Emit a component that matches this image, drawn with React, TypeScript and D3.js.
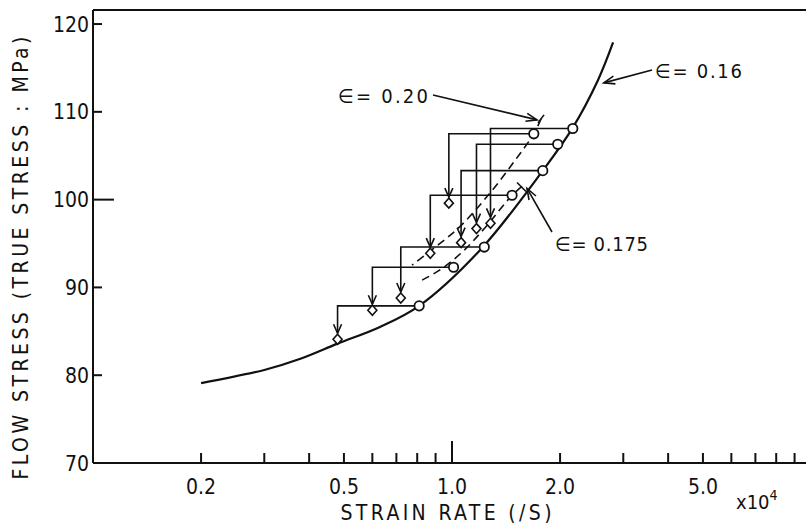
import React from 'react';
import * as d3 from 'd3';

const W = 806;
const H = 524;

// solid curve, strain = 0.16
const curveRate = [0.2, 0.3, 0.38, 0.48, 0.63, 0.81, 1.2, 1.79, 2.17, 2.55, 2.81];
const curveStress = [79.1, 80.6, 81.9, 83.6, 85.5, 87.9, 94.3, 103.3, 108.2, 113.6, 117.9];

// dashed, strain = 0.175
const midRate = [1.567, 1.47, 1.236, 1.066, 0.926, 0.814];
const midStress = [101.5, 100.5, 96.8, 94.0, 92.0, 90.7];

// dashed, strain = 0.20
const highRate = [1.77, 1.69, 1.5, 1.276, 1.05, 0.88, 0.774];
const highStress = [109.2, 107.5, 104.5, 100.75, 96.9, 94.3, 92.55];

// open circles (before the rate drop) and diamonds (after)
const circleRate = [0.81, 1.01, 1.23, 1.47, 1.79, 1.97, 2.17, 1.69];
const circleStress = [87.9, 92.3, 94.6, 100.5, 103.3, 106.3, 108.1, 107.5];
const diamondRate = [0.48, 0.6, 0.72, 0.87, 1.06, 1.17, 1.28, 0.98];
const diamondStress = [84.1, 87.4, 88.8, 93.9, 95.1, 96.7, 97.3, 99.6];

const yTicks = [70, 80, 90, 100, 110, 120];
const xLabels = [0.2, 0.5, 1.0, 2.0, 5.0];
const xMinor = [0.2, 0.3, 0.4, 0.5, 0.6, 0.7, 0.8, 0.9, 2, 3, 4, 5, 6, 7, 8, 9];

const FONT = '"DejaVu Sans Condensed", Roboto, "DejaVu Sans", sans-serif';
const INK = '#111';

// open V arrowhead ending at (x2, y2), coming from (x1, y1)
const arrowHead = (x1: number, y1: number, x2: number, y2: number, len = 9, half = 4) => {
  const a = Math.atan2(y2 - y1, x2 - x1);
  const bx = x2 - len * Math.cos(a);
  const by = y2 - len * Math.sin(a);
  const px = -Math.sin(a) * half;
  const py = Math.cos(a) * half;
  return `M${bx + px},${by + py}L${x2},${y2}L${bx - px},${by - py}`;
};

export default function App() {
  const x = d3.scaleLog().domain([0.1, 10]).range([93, 811]);
  const y = d3.scaleLinear().domain([70, 121.6]).range([463, 10]);

  const line = d3.line<number>().curve(d3.curveCatmullRom.alpha(0.5));

  const path = (rates: number[], stresses: number[]) =>
    line.x((_, i) => x(rates[i])).y((_, i) => y(stresses[i]))(rates.map((_, i) => i)) || '';

  const r = 4.7;

  // annotation arrows
  const hiTopX = x(highRate[0]);
  const hiTopY = y(highStress[0]);
  const midTopX = x(midRate[0]);
  const midTopY = y(midStress[0]);
  const lowX = x(2.58);
  const lowY = y(113.3);

  return (
    <svg
      width={W}
      height={H}
      style={{ position: 'absolute', left: 0, top: 0, background: '#fff' }}
      fontFamily={FONT}
    >
      {/* frame */}
      <g stroke={INK} strokeWidth={2} fill="none">
        <line x1={93} y1={10} x2={W} y2={10} />
        <line x1={93} y1={10} x2={93} y2={463} />
        <line x1={93} y1={463} x2={W} y2={463} />
      </g>

      {/* y ticks */}
      {yTicks.map((v) => (
        <g key={v}>
          {v > 70 && (
            <line
              x1={93}
              x2={93 + (v === 100 ? 21 : 9)}
              y1={y(v)}
              y2={y(v)}
              stroke={INK}
              strokeWidth={2}
            />
          )}
          <text x={89} y={y(v)} dy="0.36em" textAnchor="end" fontSize={21} fill={INK}>
            {v}
          </text>
        </g>
      ))}

      {/* x ticks */}
      {xMinor.map((v) => (
        <line key={v} x1={x(v)} x2={x(v)} y1={463} y2={453} stroke={INK} strokeWidth={2} />
      ))}
      <line x1={x(1)} x2={x(1)} y1={463} y2={441} stroke={INK} strokeWidth={2} />
      {xLabels.map((v) => (
        <text key={v} x={x(v)} y={486} dy="0.36em" textAnchor="middle" fontSize={21} fill={INK}>
          {v.toFixed(1)}
        </text>
      ))}
      <text x={736} y={502} dy="0.36em" fontSize={20} fill={INK}>
        x10
        <tspan dy={-9} fontSize={14}>
          4
        </tspan>
      </text>

      {/* axis titles */}
      <text x={446} y={512} dy="0.36em" textAnchor="middle" fontSize={21} fill={INK} textLength={211} lengthAdjust="spacing">
        STRAIN RATE (/S)
      </text>
      <text
        transform="translate(20,258) rotate(-90)"
        textAnchor="middle"
        dy="0.36em"
        fontSize={21}
        fill={INK}
        textLength={443}
        lengthAdjust="spacing"
      >
        FLOW STRESS (TRUE STRESS : MPa)
      </text>

      {/* curves */}
      <path d={path(curveRate, curveStress)} fill="none" stroke={INK} strokeWidth={2.2} />
      <path d={path(midRate, midStress)} fill="none" stroke={INK} strokeWidth={1.6} strokeDasharray="8,5" />
      <path d={path(highRate, highStress)} fill="none" stroke={INK} strokeWidth={1.6} strokeDasharray="8,5" />

      {/* rate-drop connectors */}
      {circleRate.map((cr, i) => {
        const cx = x(cr);
        const cy = y(circleStress[i]);
        const dx = x(diamondRate[i]);
        const dyv = y(diamondStress[i]);
        const tip = dyv - 6;
        return (
          <g key={i} stroke={INK} strokeWidth={1.6} fill="none">
            <path d={`M${cx - r},${cy}H${dx}V${tip}`} />
            <path d={arrowHead(dx, cy, dx, tip, 9, 4)} />
          </g>
        );
      })}

      {/* markers */}
      {circleRate.map((cr, i) => (
        <circle key={i} cx={x(cr)} cy={y(circleStress[i])} r={r} fill="#fff" stroke={INK} strokeWidth={1.8} />
      ))}
      {diamondRate.map((dr, i) => {
        const cx = x(dr);
        const cy = y(diamondStress[i]);
        return (
          <path
            key={i}
            d={`M${cx},${cy - 5}L${cx + 4.5},${cy}L${cx},${cy + 5}L${cx - 4.5},${cy}Z`}
            fill="#fff"
            stroke={INK}
            strokeWidth={1.6}
          />
        );
      })}

      {/* labels */}
      <g stroke={INK} strokeWidth={1.6} fill="none">
        <line x1={433} y1={95} x2={hiTopX - 4} y2={hiTopY + 1} />
        <path d={arrowHead(433, 95, hiTopX - 4, hiTopY + 1, 11, 4)} />
        <line x1={hiTopX - 3} y1={hiTopY + 4} x2={hiTopX + 3} y2={hiTopY - 4} />
        <line x1={552} y1={232} x2={midTopX + 5} y2={midTopY + 2} />
        <path d={arrowHead(552, 232, midTopX + 5, midTopY + 2, 11, 4)} />
        <line x1={midTopX - 5} y1={midTopY - 4} x2={midTopX + 4} y2={midTopY + 5} />
        <line x1={652} y1={70} x2={lowX + 4} y2={lowY} />
        <path d={arrowHead(652, 70, lowX + 4, lowY, 11, 4)} />
      </g>
      <text x={338} y={96} dy="0.36em" fontSize={20} fill={INK} textLength={90} lengthAdjust="spacing">
        ∈= 0.20
      </text>
      <text x={655} y={71} dy="0.36em" fontSize={20} fill={INK} textLength={87} lengthAdjust="spacing">
        ∈= 0.16
      </text>
      <text x={555} y={244} dy="0.36em" fontSize={20} fill={INK} textLength={93} lengthAdjust="spacing">
        ∈= 0.175
      </text>
    </svg>
  );
}
